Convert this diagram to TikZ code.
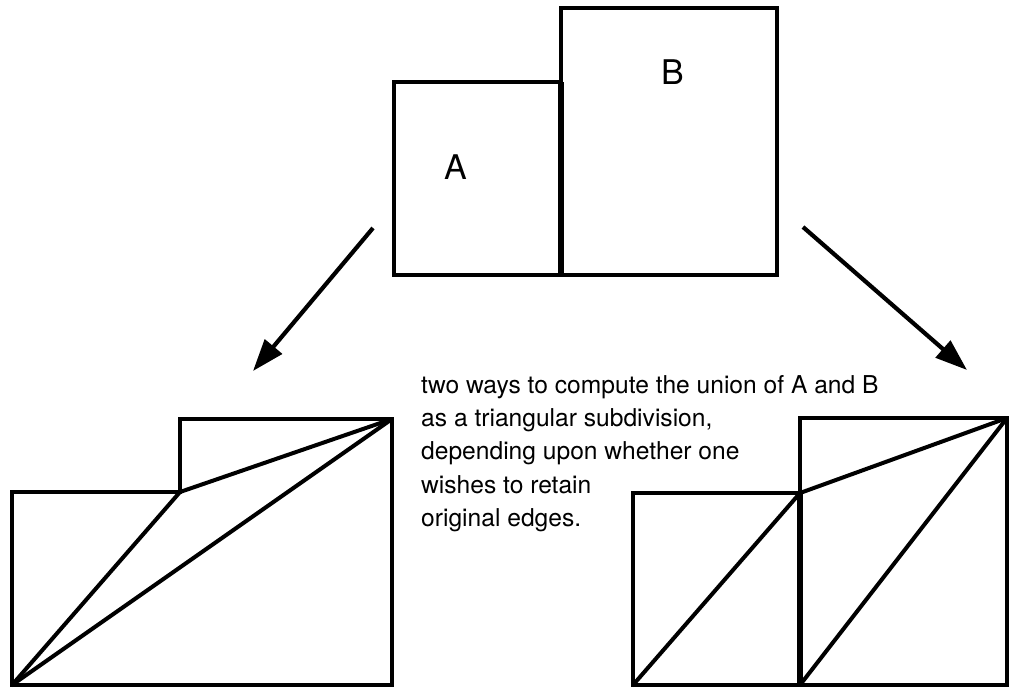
\documentclass[tikz,border=0pt]{standalone}
\usepackage{fontspec}
\setmainfont{TeX Gyre Heros}
\usetikzlibrary{arrows.meta}

\begin{document}
\begin{tikzpicture}[
    x=1pt, y=-1pt,
    outline/.style={draw=black, line width=3.2pt, line join=miter},
    seam/.style={draw=black, line width=5.5pt},
    diag/.style={draw=black, line width=4pt, line cap=round},
    arrow/.style={-{Triangle[length=32pt, width=22pt]}, line width=4.2pt, draw=black},
    letter/.style={inner sep=0pt, font=\fontsize{34}{34}\selectfont},
    caption/.style={inner sep=0pt, anchor=north west, align=left, font=\fontsize{24.6}{33.3}\selectfont}
]
    \useasboundingbox (0,0) rectangle (1009,688);

    % the two squares A and B
    \draw [outline] (394,82) rectangle (561,275);
    \draw [outline] (561,8) rectangle (777,275);
    \draw [seam] (561,82) -- (561,275);
    \node [letter] (labA) at (456,167) {A};
    \node [letter] (labB) at (673,72) {B};

    % arrows to the two subdivisions
    \coordinate (fromL) at (373,228);
    \coordinate (toL) at (253,371);
    \coordinate (fromR) at (803,227);
    \coordinate (toR) at (967,370);
    \draw [arrow] (fromL) -- (toL);
    \draw [arrow] (fromR) -- (toR);

    % left: edges not kept
    \coordinate (l0) at (12,685);
    \coordinate (l1) at (12,492);
    \coordinate (l2) at (180,492);
    \coordinate (l3) at (180,419);
    \coordinate (l4) at (392,419);
    \coordinate (l5) at (392,685);
    \draw [outline] (l0) -- (l1) -- (l2) -- (l3) -- (l4) -- (l5) -- cycle;
    \draw [diag] (l0) -- (l2);
    \draw [diag] (l2) -- (l4);
    \draw [diag] (l0) -- (l4);

    % right: original edges kept
    \coordinate (r0) at (633,685);
    \coordinate (r1) at (633,493);
    \coordinate (r2) at (800,493);
    \coordinate (r3) at (800,685);
    \coordinate (r4) at (800,418);
    \coordinate (r5) at (1007,418);
    \coordinate (r6) at (1007,685);
    \draw [outline] (r0) -- (r1) -- (r2) -- (r3) -- cycle;
    \draw [outline] (r3) -- (r4) -- (r5) -- (r6) -- cycle;
    \draw [seam] (r2) -- (r3);
    \draw [diag] (r0) -- (r2);
    \draw [diag] (r2) -- (r5);
    \draw [diag] (r3) -- (r5);

    \node [caption] (note) at (421,375) {two ways to compute the union of A and B\\as a triangular subdivision,\\depending upon whether one\\wishes to retain\\original edges.};
\end{tikzpicture}
\end{document}
